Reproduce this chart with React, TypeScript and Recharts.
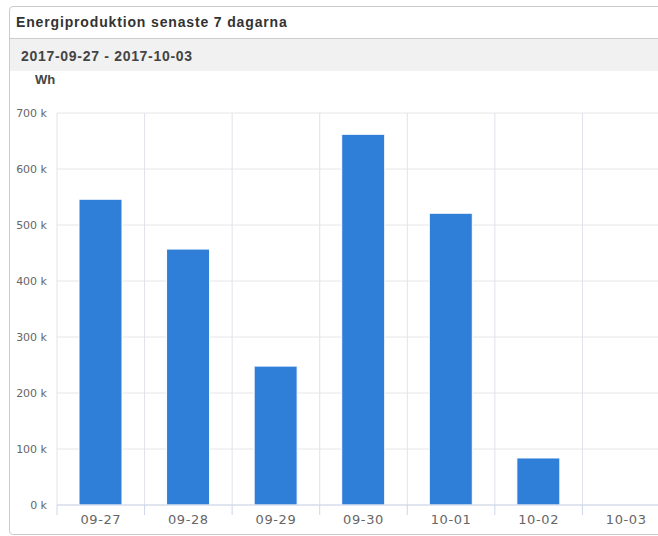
import { BarChart, Bar, XAxis, YAxis, CartesianGrid } from 'recharts';

const days = ['09-27', '09-28', '09-29', '09-30', '10-01', '10-02', '10-03'];
const energyWh = [546000, 457000, 248000, 662000, 521000, 84000, 0];
const yTicks = [0, 100000, 200000, 300000, 400000, 500000, 600000, 700000];
const dayEdges = [0, 1, 2, 3, 4, 5, 6, 7];

const data = days.map((day, i) => ({ day, value: energyWh[i] }));

const font = '"DejaVu Sans", Verdana, sans-serif';

// vertical grid at the category boundaries, like the original
const edgeLines = ({ offset }: any) =>
  dayEdges.map((i) => offset.left + (i * offset.width) / days.length);

// label plus the little tick marks sitting on the category edges
const DayTick = (props: any) => {
  const { x, y, payload, width, index } = props;
  const half = width / days.length / 2;
  return (
    <g>
      <line x1={x - half} x2={x - half} y1={y - 10} y2={y} stroke="#ccd6eb" />
      {index === days.length - 1 && <line x1={x + half} x2={x + half} y1={y - 10} y2={y} stroke="#ccd6eb" />}
      <text x={x} y={y} dy="0.71em" textAnchor="middle" fill="#666" fontSize={13} fontFamily={font} letterSpacing={0.6}>
        {payload.value}
      </text>
    </g>
  );
};

export default function App() {
  return (
    <div style={{ position: 'fixed', left: 0, top: 0, width: 658, height: 536, overflow: 'hidden', background: '#fff' }}>
      <div
        style={{
          position: 'absolute',
          left: 9,
          top: 6,
          width: 720,
          height: 529,
          border: '1px solid #ccc',
          borderRadius: 4,
          boxSizing: 'border-box',
          fontFamily: '"Liberation Sans", Arial, sans-serif',
        }}
      >
        <div style={{ height: 31, borderBottom: '1px solid #ccc', paddingLeft: 6, lineHeight: '31px', fontSize: 14, letterSpacing: 0.85, fontWeight: 'bold', color: '#333' }}>
          Energiproduktion senaste 7 dagarna
        </div>
        <div style={{ height: 32, background: '#f1f1f1', paddingLeft: 11, lineHeight: '34px', fontSize: 14, letterSpacing: 0.7, fontWeight: 'bold', color: '#444' }}>
          2017-09-27 - 2017-10-03
        </div>
      </div>
      <div style={{ position: 'absolute', left: 35, top: 72, fontFamily: '"Liberation Sans", Arial, sans-serif', fontSize: 13, fontWeight: 'bold', color: '#444' }}>Wh</div>
      <div style={{ position: 'absolute', left: 0, top: 70 }}>
        <BarChart width={700} height={466} data={data} margin={{ top: 43, right: 30, bottom: 0, left: 0 }}>
          <CartesianGrid stroke="#e6e6e6" vertical={false} />
          <CartesianGrid stroke="#dfe3ea" horizontal={false} verticalCoordinatesGenerator={edgeLines} />
          <XAxis
            dataKey="day"
            height={31}
            axisLine={{ stroke: '#ccd6eb' }}
            tickLine={false}
            tickSize={0}
            tickMargin={10}
            interval={0}
            tick={<DayTick />}
          />
          <YAxis
            width={57}
            domain={[0, 700000]}
            ticks={yTicks}
            axisLine={false}
            tickLine={false}
            tickMargin={4}
            tickFormatter={(v: number) => `${v / 1000} k`}
            tick={{ fill: '#666', fontSize: 11, fontFamily: font }}
          />
          <Bar dataKey="value" fill="#2f7ed8" stroke="#fff" strokeWidth={1} barSize={43} isAnimationActive={false} />
        </BarChart>
      </div>
    </div>
  );
}
